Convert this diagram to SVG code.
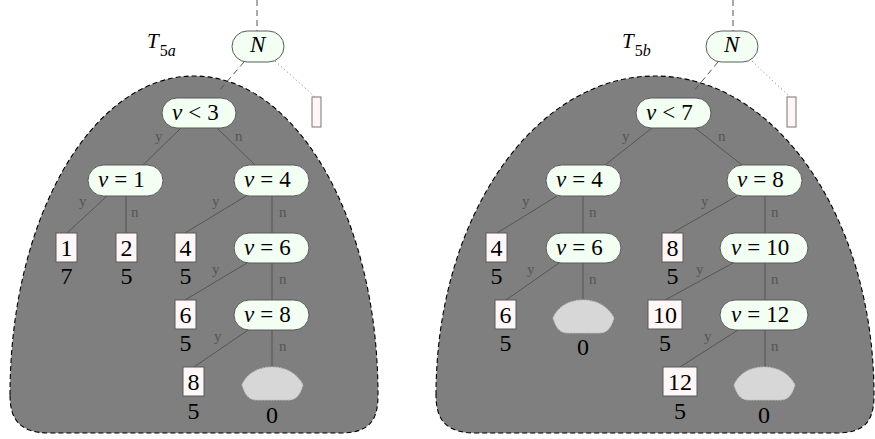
<svg xmlns="http://www.w3.org/2000/svg" width="875" height="439" viewBox="0 0 875 439">
<g id="blobA"><path fill="#7f7f7f" stroke="#000" stroke-width="1.1" stroke-dasharray="5,3" d="M10,395 C10,218 92,76 194,76 C296,76 378,218 378,395 C378,420 370,433 340,433 L50,433 C20,433 10,420 10,395 Z"/></g>
<g id="blobB"><path fill="#7f7f7f" stroke="#000" stroke-width="1.1" stroke-dasharray="5,3" d="M436,395 C436,218 534,76 655,76 C776,76 874,218 874,395 C874,420 866,433 836,433 L476,433 C446,433 436,420 436,395 Z"/></g>

<g id="connectors">
<g stroke="#555" stroke-width="1" stroke-dasharray="6,4" fill="none">
<line x1="257" y1="0" x2="257" y2="31"/>
<line x1="244" y1="62" x2="218" y2="92"/>
<line x1="733" y1="0" x2="733" y2="31"/>
<line x1="718" y1="62" x2="693" y2="92"/>
</g>
<g stroke="#777" stroke-width="1" stroke-dasharray="1,3" fill="none">
<line x1="275" y1="61" x2="315" y2="97"/>
<line x1="752" y1="61" x2="790" y2="97"/>
</g>
<g stroke="#555" stroke-width="1" fill="none">
<line x1="181" y1="128" x2="143" y2="165"/>
<line x1="217" y1="128" x2="255" y2="165"/>
<line x1="107" y1="196" x2="67" y2="233"/>
<line x1="126" y1="196" x2="126" y2="233"/>
<line x1="246" y1="196" x2="185" y2="233"/>
<line x1="272" y1="196" x2="272" y2="233"/>
<line x1="247" y1="263" x2="185" y2="300"/>
<line x1="272" y1="263" x2="272" y2="300"/>
<line x1="248" y1="330" x2="194" y2="367"/>
<line x1="272" y1="330" x2="272" y2="367"/>
<line x1="652" y1="128" x2="605" y2="165"/>
<line x1="695" y1="128" x2="742" y2="165"/>
<line x1="557" y1="196" x2="497" y2="233"/>
<line x1="583" y1="196" x2="583" y2="233"/>
<line x1="559" y1="263" x2="506" y2="300"/>
<line x1="583" y1="263" x2="583" y2="300"/>
<line x1="737" y1="196" x2="672" y2="233"/>
<line x1="765" y1="196" x2="765" y2="233"/>
<line x1="733" y1="263" x2="665" y2="300"/>
<line x1="765" y1="263" x2="765" y2="300"/>
<line x1="738" y1="330" x2="680" y2="367"/>
<line x1="765" y1="330" x2="765" y2="367"/>
</g>
<g font-family="Times New Roman" font-size="15" fill="#555">
<text x="155" y="141">y</text>
<text x="235" y="141">n</text>
<text x="79" y="206">y</text>
<text x="131" y="217">n</text>
<text x="212" y="206">y</text>
<text x="279" y="217">n</text>
<text x="212" y="274">y</text>
<text x="279" y="284">n</text>
<text x="214" y="341">y</text>
<text x="279" y="351">n</text>
<text x="622" y="141">y</text>
<text x="718" y="141">n</text>
<text x="522" y="206">y</text>
<text x="589" y="217">n</text>
<text x="701" y="206">y</text>
<text x="771" y="217">n</text>
<text x="527" y="274">y</text>
<text x="589" y="284">n</text>
<text x="696" y="274">y</text>
<text x="771" y="284">n</text>
<text x="704" y="341">y</text>
<text x="771" y="351">n</text>
</g>
</g>

<g id="titleA"><text font-family="Times New Roman" font-size="21" x="147" y="48"><tspan font-style="italic">T</tspan><tspan font-size="16" dy="8" dx="1">5</tspan><tspan font-size="16" font-style="italic">a</tspan></text></g>
<g id="titleB"><text font-family="Times New Roman" font-size="21" x="622" y="48"><tspan font-style="italic">T</tspan><tspan font-size="16" dy="8" dx="1">5</tspan><tspan font-size="16" font-style="italic">b</tspan></text></g>

<g id="nA"><rect fill="#f2fff2" stroke="#5a5a5a" x="232" y="31" width="52" height="31" rx="15.5"/><text font-family="Times New Roman" font-size="23" font-style="italic" x="250" y="52">N</text></g>
<g id="stubA"><rect fill="#fff7f7" stroke="#777" x="312" y="97" width="9" height="30"/></g>
<g id="nB"><rect fill="#f2fff2" stroke="#5a5a5a" x="706" y="31" width="52" height="31" rx="15.5"/><text font-family="Times New Roman" font-size="23" font-style="italic" x="724" y="52">N</text></g>
<g id="stubB"><rect fill="#fff7f7" stroke="#777" x="787" y="97" width="9" height="30"/></g>

<g font-family="Times New Roman" font-size="23">
<g id="a_lt3"><rect fill="#f2fff2" stroke="#5a5a5a" x="162" y="98" width="74" height="30" rx="15"/><text x="172" y="120"><tspan font-style="italic">v</tspan><tspan dx="6">&lt;</tspan><tspan dx="6">3</tspan></text></g>
<g id="a_eq1"><rect fill="#f2fff2" stroke="#5a5a5a" x="88" y="165" width="75" height="31" rx="15.5"/><text x="98" y="187"><tspan font-style="italic">v</tspan><tspan dx="6">=</tspan><tspan dx="6">1</tspan></text></g>
<g id="a_eq4"><rect fill="#f2fff2" stroke="#5a5a5a" x="234" y="165" width="75" height="31" rx="15.5"/><text x="244" y="187"><tspan font-style="italic">v</tspan><tspan dx="6">=</tspan><tspan dx="6">4</tspan></text></g>
<g id="a_eq6"><rect fill="#f2fff2" stroke="#5a5a5a" x="234" y="233" width="75" height="30" rx="15"/><text x="244" y="255"><tspan font-style="italic">v</tspan><tspan dx="6">=</tspan><tspan dx="6">6</tspan></text></g>
<g id="a_eq8"><rect fill="#f2fff2" stroke="#5a5a5a" x="234" y="300" width="75" height="30" rx="15"/><text x="244" y="322"><tspan font-style="italic">v</tspan><tspan dx="6">=</tspan><tspan dx="6">8</tspan></text></g>
<g id="b_lt7"><rect fill="#f2fff2" stroke="#5a5a5a" x="636" y="98" width="75" height="30" rx="15"/><text x="646" y="120"><tspan font-style="italic">v</tspan><tspan dx="6">&lt;</tspan><tspan dx="6">7</tspan></text></g>
<g id="b_eq4"><rect fill="#f2fff2" stroke="#5a5a5a" x="546" y="165" width="75" height="31" rx="15.5"/><text x="556" y="187"><tspan font-style="italic">v</tspan><tspan dx="6">=</tspan><tspan dx="6">4</tspan></text></g>
<g id="b_eq8"><rect fill="#f2fff2" stroke="#5a5a5a" x="727" y="165" width="75" height="31" rx="15.5"/><text x="737" y="187"><tspan font-style="italic">v</tspan><tspan dx="6">=</tspan><tspan dx="6">8</tspan></text></g>
<g id="b_eq6"><rect fill="#f2fff2" stroke="#5a5a5a" x="546" y="233" width="75" height="30" rx="15"/><text x="556" y="255"><tspan font-style="italic">v</tspan><tspan dx="6">=</tspan><tspan dx="6">6</tspan></text></g>
<g id="b_eq10"><rect fill="#f2fff2" stroke="#5a5a5a" x="720" y="233" width="88" height="30" rx="15"/><text x="731" y="255"><tspan font-style="italic">v</tspan><tspan dx="6">=</tspan><tspan dx="6">10</tspan></text></g>
<g id="b_eq12"><rect fill="#f2fff2" stroke="#5a5a5a" x="720" y="300" width="88" height="30" rx="15"/><text x="731" y="322"><tspan font-style="italic">v</tspan><tspan dx="6">=</tspan><tspan dx="6">12</tspan></text></g>
</g>

<g font-family="Times New Roman" font-size="24">
<g id="a_l1"><rect fill="#fff7f7" stroke="#5a5a5a" x="56" y="233" width="21" height="29"/><text x="60.5" y="256">1</text><text x="60.5" y="284">7</text></g>
<g id="a_l2"><rect fill="#fff7f7" stroke="#5a5a5a" x="116" y="233" width="21" height="29"/><text x="120.5" y="256">2</text><text x="120.5" y="284">5</text></g>
<g id="a_l4"><rect fill="#fff7f7" stroke="#5a5a5a" x="175" y="233" width="21" height="29"/><text x="179.5" y="256">4</text><text x="179.5" y="284">5</text></g>
<g id="a_l6"><rect fill="#fff7f7" stroke="#5a5a5a" x="175" y="300" width="21" height="29"/><text x="179.5" y="323">6</text><text x="179.5" y="351">5</text></g>
<g id="a_l8"><rect fill="#fff7f7" stroke="#5a5a5a" x="183" y="367" width="21" height="29"/><text x="187.5" y="390">8</text><text x="187.5" y="419">5</text></g>
<g id="a_c1"><path fill="#d7d7d7" stroke="#c4c4c4" stroke-dasharray="2,1" d="M242,385 C247,373 259,367 272,367 C285,367 297,373 303,385 C300,394 297,400 288,400 L257,400 C248,400 245,394 242,385 Z"/><text x="266" y="423">0</text></g>
<g id="b_l4"><rect fill="#fff7f7" stroke="#5a5a5a" x="486" y="233" width="21" height="29"/><text x="490.5" y="256">4</text><text x="490.5" y="284">5</text></g>
<g id="b_l6"><rect fill="#fff7f7" stroke="#5a5a5a" x="495" y="300" width="21" height="29"/><text x="499.5" y="323">6</text><text x="499.5" y="351">5</text></g>
<g id="b_c1"><path fill="#d7d7d7" stroke="#c4c4c4" stroke-dasharray="2,1" d="M553,318 C558,306 570,300 583,300 C596,300 608,306 614,318 C611,327 608,333 599,333 L568,333 C559,333 556,327 553,318 Z"/><text x="577" y="355">0</text></g>
<g id="b_l8"><rect fill="#fff7f7" stroke="#5a5a5a" x="662" y="233" width="21" height="29"/><text x="666.5" y="256">8</text><text x="666.5" y="284">5</text></g>
<g id="b_l10"><rect fill="#fff7f7" stroke="#5a5a5a" x="648" y="300" width="34" height="29"/><text x="653" y="323">10</text><text x="659" y="351">5</text></g>
<g id="b_l12"><rect fill="#fff7f7" stroke="#5a5a5a" x="663" y="367" width="34" height="29"/><text x="668" y="390">12</text><text x="674" y="419">5</text></g>
<g id="b_c2"><path fill="#d7d7d7" stroke="#c4c4c4" stroke-dasharray="2,1" d="M734,385 C739,373 751,367 764,367 C777,367 789,373 795,385 C792,394 789,400 780,400 L749,400 C740,400 737,394 734,385 Z"/><text x="758" y="423">0</text></g>
</g>
</svg>
